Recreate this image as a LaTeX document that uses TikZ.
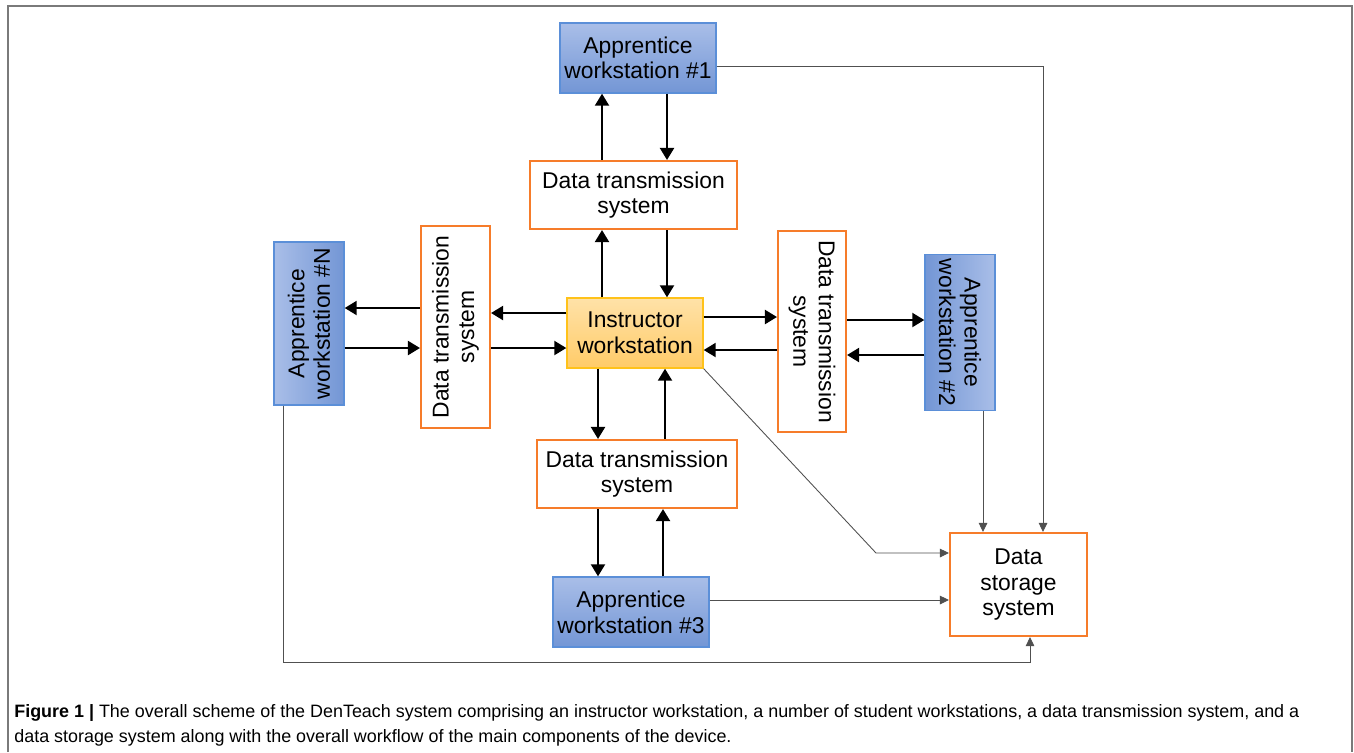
\documentclass[tikz,border=0pt]{standalone}
\usepackage{fontspec}
\setmainfont{Liberation Sans}
\usetikzlibrary{arrows.meta}

\definecolor{wsedge}{HTML}{5B8FD8}
\definecolor{wstop}{HTML}{A9BEE8}
\definecolor{wsbottom}{HTML}{7396D5}
\definecolor{dtsedge}{HTML}{F67C2A}
\definecolor{insedge}{HTML}{FFC21A}
\definecolor{instop}{HTML}{FFE2A8}
\definecolor{insbottom}{HTML}{FFCB68}
\definecolor{framegray}{HTML}{7A7A7A}
\definecolor{linkgray}{HTML}{505050}

\newcommand{\boxfont}{\fontsize{13pt}{14.6pt}\selectfont}
\newcommand{\capfont}{\fontsize{10.2pt}{14.2pt}\selectfont}

\begin{document}
\begin{tikzpicture}[x=0.02cm,y=-0.02cm,
    station/.style={draw=wsedge,line width=0.8pt,top color=wstop,bottom color=wsbottom,
        inner sep=0pt,align=center,font=\boxfont,minimum width=3.12cm,minimum height=1.4cm},
    dts/.style={draw=dtsedge,line width=1.2pt,fill=white,inner sep=0pt,align=center,
        font=\boxfont,minimum width=4.1cm,minimum height=1.36cm},
    flow/.style={line width=1.2pt,-{Triangle[length=0.24cm,width=0.28cm]}},
    link/.style={draw=linkgray,line width=0.5pt,-{Triangle[length=0.18cm,width=0.17cm]}}]
        \useasboundingbox (0,0) rectangle (1354,752);

        % frame
        \draw[framegray,line width=0.6pt] (8,752) -- (8,6) -- (1352,6) -- (1352,752);

        % workstations
        \node[draw=insedge,line width=0.8pt,top color=instop,bottom color=insbottom,inner sep=0pt,
              align=center,font=\boxfont,minimum width=2.72cm,minimum height=1.4cm]
              (I) at (635,333) {Instructor\\workstation};
        \node[station] (A1) at (638,58) {Apprentice\\workstation \#1};
        \node[station,rotate=-90,left color=wsbottom,right color=wstop] (A2) at (960,332.5) {Apprentice\\workstation \#2};
        \node[station] (A3) at (631,612) {Apprentice\\workstation \#3};
        \node[station,rotate=90,minimum width=3.26cm,left color=wstop,right color=wsbottom] (AN) at (309,323.5) {Apprentice\\workstation \#N};

        % data transmission systems
        \node[dts,minimum width=4.14cm] (T) at (633.5,195) {Data transmission\\system};
        \node[dts,minimum width=4.0cm] (B) at (637,474) {Data transmission\\system};
        \node[dts,rotate=90,minimum width=4.04cm,minimum height=1.38cm] (L) at (455.5,327) {Data transmission\\system};
        \node[dts,rotate=-90,minimum width=4.02cm] (R) at (812,331.5) {Data transmission\\system};

        % storage
        \node[dts,minimum width=2.74cm,minimum height=2.06cm] (S) at (1018.5,584.5) {Data\\storage\\system};

        % two-way traffic
        \draw[flow] (T.north -| 602,0) -- (A1.south -| 602,0);
        \draw[flow] (A1.south -| 667,0) -- (T.north -| 667,0);
        \draw[flow] (I.north -| 602,0) -- (T.south -| 602,0);
        \draw[flow] (T.south -| 667,0) -- (I.north -| 667,0);
        \draw[flow] (I.south -| 598,0) -- (B.north -| 598,0);
        \draw[flow] (B.north -| 665,0) -- (I.south -| 665,0);
        \draw[flow] (B.south -| 598,0) -- (A3.north -| 598,0);
        \draw[flow] (A3.north -| 663,0) -- (B.south -| 663,0);
        \draw[flow] (L.north |- 0,308) -- (AN.south |- 0,308);
        \draw[flow] (AN.south |- 0,348) -- (L.north |- 0,348);
        \draw[flow] (I.west |- 0,313) -- (L.south |- 0,313);
        \draw[flow] (L.south |- 0,348) -- (I.west |- 0,348);
        \draw[flow] (I.east |- 0,317) -- (R.south |- 0,317);
        \draw[flow] (R.south |- 0,350) -- (I.east |- 0,350);
        \draw[flow] (R.north |- 0,320) -- (A2.south |- 0,320);
        \draw[flow] (A2.south |- 0,355) -- (R.north |- 0,355);

        % links to storage
        \coordinate (kink) at (876,553);
        \coordinate (low) at (283,662);
        \draw[link] (A1.east |- 0,66) -| (S.north -| 1043,0);
        \draw[link] (A2.east -| 983,0) -- (S.north -| 983,0);
        \draw[link] (I.south east) -- (kink) -- (S.west |- kink);
        \draw[link] (A3.east |- 0,600) -- (S.west |- 0,600);
        \draw[link] (AN.west -| low) -- (low) -| (S.south -| 1030,0);

        % caption
        \node[anchor=base west,align=left,inner sep=0pt,font=\capfont] (cap) at (14,742)
            {\textbf{Figure 1 |} The overall scheme of the DenTeach system comprising an instructor workstation, a number of student workstations, a data transmission system, and a\\
             data storage system along with the overall workflow of the main components of the device.};
    \end{tikzpicture}
\end{document}
